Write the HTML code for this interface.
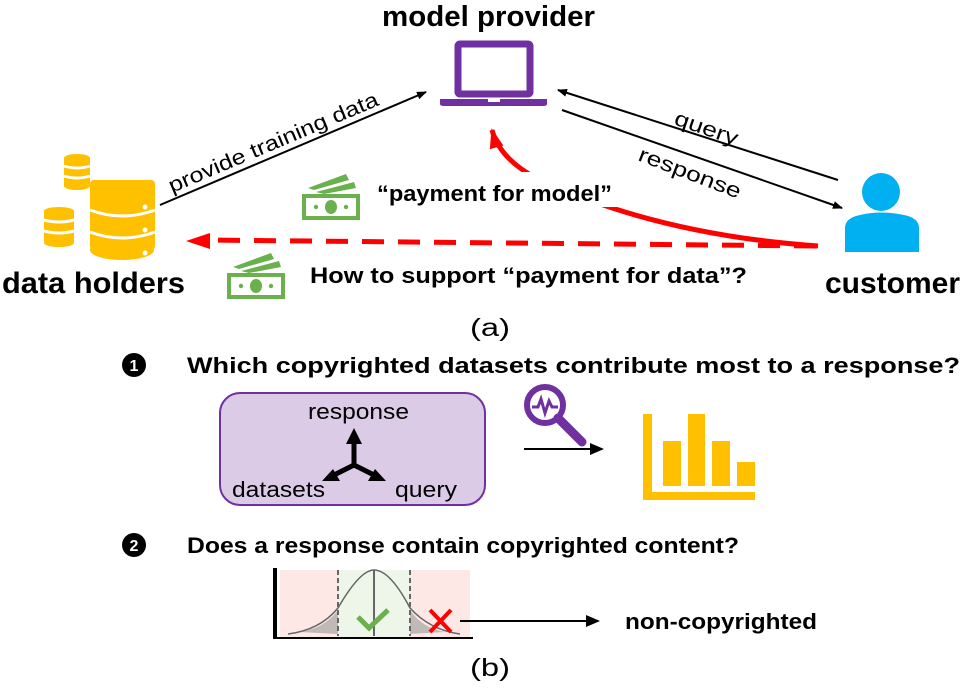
<!DOCTYPE html>
<html><head><meta charset="utf-8"><style>
html,body{margin:0;padding:0;background:#fff}
svg{display:block}
text{font-family:"Liberation Sans",Arial,sans-serif}
</style></head><body>
<svg width="976" height="691" viewBox="0 0 976 691" xmlns="http://www.w3.org/2000/svg">
<defs>
<marker id="ab" markerWidth="10" markerHeight="8" refX="9" refY="4" orient="auto" markerUnits="userSpaceOnUse"><path d="M0,0 L10,4 L0,8 z" fill="#000"/></marker>
<marker id="ar" markerWidth="20" markerHeight="14" refX="18" refY="7" orient="auto" markerUnits="userSpaceOnUse"><path d="M0,0 L20,7 L0,14 z" fill="#f00"/></marker>
<marker id="ab2" markerWidth="14" markerHeight="12" refX="12" refY="6" orient="auto" markerUnits="userSpaceOnUse"><path d="M0,0 L14,6 L0,12 z" fill="#000"/></marker>
<g id="money" fill="#6ab04c">
<path d="M6,14 L44,0 L47,6 L12,16 z"/><path d="M14,18 L52,8 L54,14 L22,20z"/>
<path d="M0,20 H58 V46 H0 z M4,24 V42 H54 V24 z" fill-rule="evenodd"/>
<ellipse cx="29" cy="33" rx="6" ry="7"/><circle cx="14" cy="33" r="2.2"/><circle cx="44" cy="33" r="2.2"/>
</g>
</defs>

<text x="382" y="26" font-size="29" font-weight="bold" textLength="213" lengthAdjust="spacingAndGlyphs">model provider</text>
<!-- laptop -->
<rect x="458" y="44" width="72" height="50" fill="none" stroke="#7030a0" stroke-width="7" rx="2"/>
<path d="M440,99 H547 V104 Q547,106 543,106 H444 Q440,106 440,104 z" fill="#7030a0"/>
<rect x="488" y="99" width="12" height="3" fill="#fff"/>

<!-- databases -->
<g fill="#ffc000">
<rect x="90" y="180" width="65" height="70" rx="4"/><ellipse cx="122" cy="190" rx="32" ry="10"/><ellipse cx="122" cy="250" rx="32" ry="10"/>
<rect x="64" y="158" width="26" height="28"/><ellipse cx="77" cy="158" rx="13" ry="4"/><ellipse cx="77" cy="186" rx="13" ry="4"/>
<rect x="44" y="210" width="30" height="32"/><ellipse cx="59" cy="211" rx="15" ry="4"/><ellipse cx="59" cy="243" rx="15" ry="4"/>
</g>
<g stroke="#fff" stroke-width="3" fill="none">
<path d="M90,210 Q122,222 155,210"/><path d="M90,232 Q122,244 155,232"/>
<path d="M64,166 Q77,170 90,166"/><path d="M64,176 Q77,180 90,176"/>
<path d="M44,220 Q59,224 74,220"/><path d="M44,231 Q59,235 74,231"/>
</g>
<g fill="#fff"><circle cx="145" cy="207" r="2.5"/><circle cx="145" cy="230" r="2.5"/><circle cx="145" cy="253" r="2.5"/></g>
<text x="2" y="293" font-size="30" font-weight="bold" textLength="183" lengthAdjust="spacingAndGlyphs">data holders</text>

<!-- customer -->
<circle cx="881" cy="192" r="19" fill="#00b0f0"/>
<path d="M845,252 V228 Q845,218 860,215 Q881,210 904,215 Q919,218 919,228 V252 z" fill="#00b0f0"/>
<text x="825" y="293" font-size="30" font-weight="bold" textLength="135" lengthAdjust="spacingAndGlyphs">customer</text>

<!-- black arrows -->
<line x1="160" y1="205" x2="426" y2="92" stroke="#000" stroke-width="2" marker-end="url(#ab)"/>
<text font-size="21" transform="translate(172,193) rotate(-23)" textLength="226" lengthAdjust="spacingAndGlyphs">provide training data</text>
<line x1="838" y1="180" x2="558" y2="90" stroke="#000" stroke-width="2" marker-end="url(#ab)"/>
<line x1="562" y1="110" x2="842" y2="208" stroke="#000" stroke-width="2" marker-end="url(#ab)"/>
<text font-size="21" transform="translate(673,124) rotate(19)" textLength="66" lengthAdjust="spacingAndGlyphs">query</text>
<text font-size="21" transform="translate(637,160) rotate(21)" textLength="108" lengthAdjust="spacingAndGlyphs">response</text>

<!-- red arrows -->
<path d="M818,246 Q660,235 540,180 Q500,160 492,130" fill="none" stroke="#f00" stroke-width="5" marker-end="url(#ar)"/>
<rect x="372" y="172" width="245" height="35" fill="#fff"/>
<line x1="816" y1="246" x2="205" y2="240" stroke="#f00" stroke-width="5" stroke-dasharray="22,14" />
<path d="M186,241 L210,233 L210,249 z" fill="#f00"/>

<use href="#money" x="302" y="174"/>
<use href="#money" x="227" y="253"/>
<text x="377" y="201" font-size="22" font-weight="bold" textLength="235" lengthAdjust="spacingAndGlyphs">“payment for model”</text>
<text x="310" y="283" font-size="22" font-weight="bold" textLength="437" lengthAdjust="spacingAndGlyphs">How to support “payment for data”?</text>

<text x="470" y="336" font-size="25" textLength="40" lengthAdjust="spacingAndGlyphs">(a)</text>

<!-- (b) -->
<circle cx="134" cy="365" r="12" fill="#000"/><text x="134" y="371" font-size="16" font-weight="bold" fill="#fff" text-anchor="middle">1</text>
<text x="187" y="373" font-size="22" font-weight="bold" textLength="773" lengthAdjust="spacingAndGlyphs">Which copyrighted datasets contribute most to a response?</text>

<rect x="220" y="393" width="265" height="112" rx="20" fill="#dccbe6" stroke="#7030a0" stroke-width="2"/>
<text x="308" y="419" font-size="22" textLength="101" lengthAdjust="spacingAndGlyphs">response</text>
<text x="232" y="497" font-size="22" textLength="93" lengthAdjust="spacingAndGlyphs">datasets</text>
<text x="395" y="497" font-size="22" textLength="62" lengthAdjust="spacingAndGlyphs">query</text>
<g stroke="#000" stroke-width="5" fill="none"><line x1="354" y1="465" x2="354" y2="440"/><line x1="354" y1="465" x2="330" y2="477"/><line x1="354" y1="465" x2="378" y2="477"/></g>
<path d="M354,428 L346,444 L362,444z M322,481 L333,469 L340,481z M386,481 L368,481 L375,469z" fill="#000"/>

<!-- magnifier -->
<circle cx="545" cy="405" r="18" fill="none" stroke="#7030a0" stroke-width="6"/>
<path d="M532,407 H538 L541,399 L545,413 L549,401 L552,407 H558" fill="none" stroke="#7030a0" stroke-width="3"/>
<line x1="558" y1="418" x2="582" y2="442" stroke="#7030a0" stroke-width="9" stroke-linecap="round"/>
<line x1="524" y1="449" x2="602" y2="449" stroke="#000" stroke-width="2" marker-end="url(#ab2)"/>

<!-- bar chart -->
<g fill="#ffc000">
<rect x="643" y="414" width="9" height="86"/><rect x="643" y="492" width="112" height="8"/>
<rect x="663" y="441" width="18" height="45"/><rect x="688" y="414" width="17" height="72"/><rect x="712" y="441" width="18" height="45"/><rect x="737" y="462" width="18" height="24"/>
</g>

<circle cx="134" cy="545" r="12" fill="#000"/><text x="134" y="551" font-size="16" font-weight="bold" fill="#fff" text-anchor="middle">2</text>
<text x="187" y="553" font-size="22" font-weight="bold" textLength="552" lengthAdjust="spacingAndGlyphs">Does a response contain copyrighted content?</text>

<!-- distribution -->
<rect x="280" y="570" width="58" height="68" fill="#fde8e6"/>
<rect x="338" y="570" width="72" height="68" fill="#eef6ea"/>
<rect x="410" y="570" width="60" height="68" fill="#fde8e6"/>
<path d="M288,634 Q320,630 338,608 Q360,570 374,570 Q390,570 410,608 Q430,630 460,634" fill="none" stroke="#666" stroke-width="1.5"/>
<path d="M300,632 Q325,628 338,610 V634 z M410,610 Q422,628 445,632 L410,634 z" fill="#999" opacity="0.6"/>
<g stroke="#666" stroke-width="2" stroke-dasharray="5,3"><line x1="338" y1="570" x2="338" y2="636"/><line x1="410" y1="570" x2="410" y2="636"/></g>
<line x1="374" y1="570" x2="374" y2="636" stroke="#666" stroke-width="2"/>
<path d="M358,617 L369,628 L388,610" fill="none" stroke="#6ab04c" stroke-width="5"/>
<path d="M430,610 L451,632 M451,610 L430,632" stroke="#f00" stroke-width="4"/>
<line x1="275" y1="568" x2="275" y2="639" stroke="#000" stroke-width="4"/>
<line x1="273" y1="638" x2="473" y2="638" stroke="#000" stroke-width="2"/>
<line x1="460" y1="621" x2="598" y2="621" stroke="#000" stroke-width="2" marker-end="url(#ab2)"/>
<text x="625" y="629" font-size="22" font-weight="bold" textLength="192" lengthAdjust="spacingAndGlyphs">non-copyrighted</text>

<text x="470" y="676" font-size="25" textLength="40" lengthAdjust="spacingAndGlyphs">(b)</text>
</svg>
</body></html>
